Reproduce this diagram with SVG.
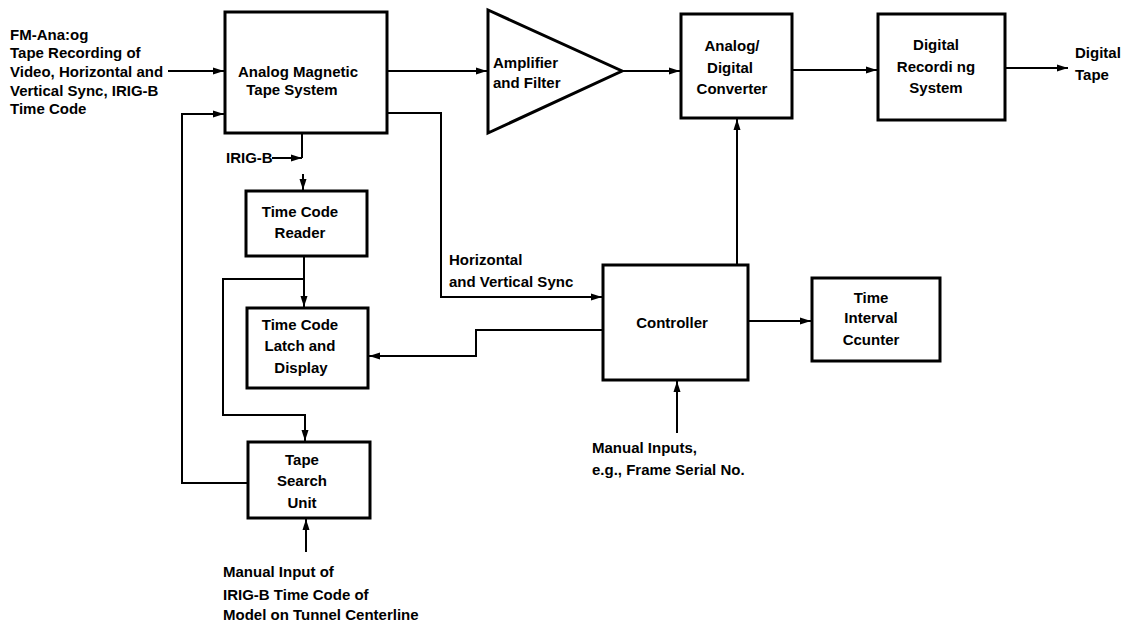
<svg xmlns="http://www.w3.org/2000/svg" width="1136" height="625" viewBox="0 0 1136 625">
<style>
  .box { fill: #fff; stroke: #000; stroke-width: 3; }
  .ln { fill: none; stroke: #000; stroke-width: 2; }
  text { font-family: "Liberation Sans", Arial, sans-serif; font-weight: bold; font-size: 15px; fill: #000; }
  .c { text-anchor: middle; }
</style>
<defs>
  <marker id="ah" markerUnits="userSpaceOnUse" markerWidth="12" markerHeight="10" viewBox="0 0 12 10" refX="11" refY="5" orient="auto">
    <path d="M0,1.5 L11,5 L0,8.5 Z" fill="#000"/>
  </marker>
</defs>
<rect width="1136" height="625" fill="#fff"/>

<g id="connectors">
  <path class="ln" d="M168,71 H224" marker-end="url(#ah)"/>
  <path class="ln" d="M248,483 H182 V114 H224" marker-end="url(#ah)"/>
  <path class="ln" d="M387,71 H487" marker-end="url(#ah)"/>
  <path class="ln" d="M622,71 H680" marker-end="url(#ah)"/>
  <path class="ln" d="M792,70 H877" marker-end="url(#ah)"/>
  <path class="ln" d="M1005,68 H1068" marker-end="url(#ah)"/>
  <path class="ln" d="M387,113 H441 V297 H602" marker-end="url(#ah)"/>
  <path class="ln" d="M302,133 V158"/>
  <path class="ln" d="M272,158 H302" marker-end="url(#ah)"/>
  <path class="ln" d="M303,174 V190" marker-end="url(#ah)"/>
  <path class="ln" d="M304,256 V307" marker-end="url(#ah)"/>
  <path class="ln" d="M304,279 H223 V415 H305 V441" marker-end="url(#ah)"/>
  <path class="ln" d="M603,330 H476 V356 H369" marker-end="url(#ah)"/>
  <path class="ln" d="M737,265 V119" marker-end="url(#ah)"/>
  <path class="ln" d="M748,321 H811" marker-end="url(#ah)"/>
  <path class="ln" d="M677,433 V381" marker-end="url(#ah)"/>
  <path class="ln" d="M306,552 V519" marker-end="url(#ah)"/>
</g>

<g id="input-label">
  <text x="10" y="40">FM-Ana:og</text>
  <text x="10" y="58">Tape Recording of</text>
  <text x="10" y="77">Video, Horizontal and</text>
  <text x="10" y="96">Vertical Sync, IRIG-B</text>
  <text x="10" y="114">Time Code</text>
</g>

<g id="analog-tape">
  <rect class="box" x="225" y="12" width="162" height="121"/>
  <text class="c" x="298" y="77">Analog Magnetic</text>
  <text class="c" x="292" y="95">Tape System</text>
</g>

<g id="amplifier">
  <polygon class="box" points="488,10 488,133 622,71"/>
  <text x="493" y="68">Amplifier</text>
  <text x="493" y="88">and Filter</text>
</g>

<g id="ad-converter">
  <rect class="box" x="681" y="14" width="111" height="104"/>
  <text class="c" x="732" y="51">Analog/</text>
  <text class="c" x="730" y="73">Digital</text>
  <text class="c" x="732" y="94">Converter</text>
</g>

<g id="digital-recording">
  <rect class="box" x="878" y="14" width="127" height="106"/>
  <text class="c" x="936" y="50">Digital</text>
  <text class="c" x="936" y="72">Recordi ng</text>
  <text class="c" x="936" y="93">System</text>
</g>

<g id="digital-tape">
  <text x="1075" y="58">Digital</text>
  <text x="1075" y="80">Tape</text>
</g>

<g id="irig-b-label">
  <text x="226" y="163">IRIG-B</text>
</g>

<g id="time-code-reader">
  <rect class="box" x="246" y="191" width="121" height="65"/>
  <text class="c" x="300" y="217">Time Code</text>
  <text class="c" x="300" y="238">Reader</text>
</g>

<g id="sync-label">
  <text x="449" y="265">Horizontal</text>
  <text x="449" y="287">and Vertical Sync</text>
</g>

<g id="time-code-latch">
  <rect class="box" x="247" y="308" width="121" height="80"/>
  <text class="c" x="300" y="330">Time Code</text>
  <text class="c" x="300" y="351">Latch and</text>
  <text class="c" x="301" y="373">Display</text>
</g>

<g id="controller">
  <rect class="box" x="603" y="265" width="145" height="115"/>
  <text class="c" x="672" y="328">Controller</text>
</g>

<g id="time-interval-counter">
  <rect class="box" x="812" y="278" width="128" height="83"/>
  <text class="c" x="871" y="303">Time</text>
  <text class="c" x="871" y="323">Interval</text>
  <text class="c" x="871" y="345">Ccunter</text>
</g>

<g id="manual-inputs">
  <text x="592" y="453">Manual Inputs,</text>
  <text x="592" y="475">e.g., Frame Serial No.</text>
</g>

<g id="tape-search">
  <rect class="box" x="248" y="442" width="122" height="76"/>
  <text class="c" x="302" y="465">Tape</text>
  <text class="c" x="302" y="486">Search</text>
  <text class="c" x="302" y="508">Unit</text>
</g>

<g id="manual-input-irig">
  <text x="223" y="577">Manual Input of</text>
  <text x="223" y="600">IRIG-B Time Code of</text>
  <text x="223" y="620">Model on Tunnel Centerline</text>
</g>
</svg>
